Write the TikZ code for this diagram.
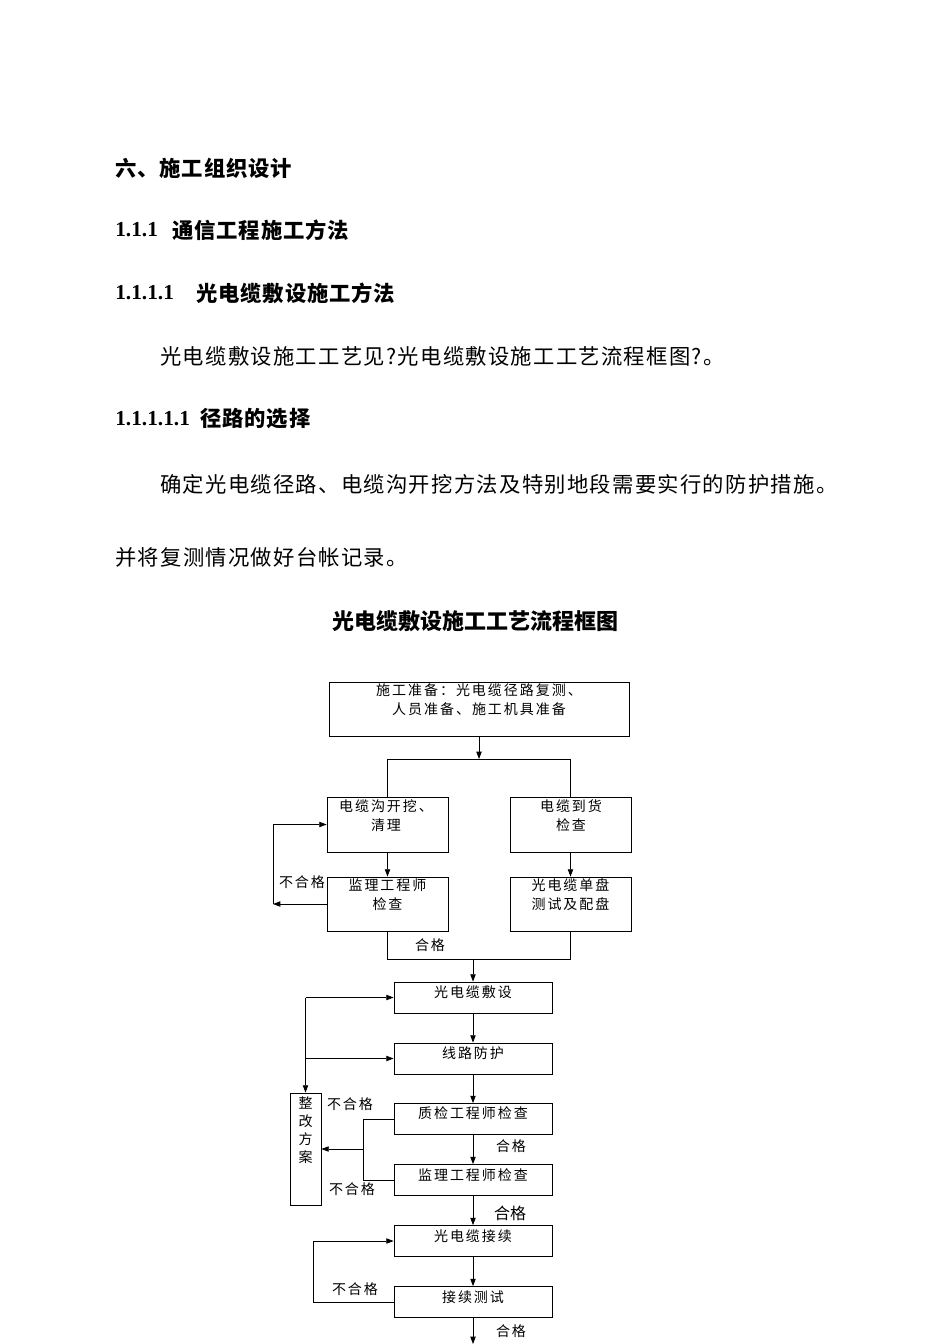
\documentclass[tikz,border=0pt]{standalone}
\usepackage{fontspec}
\setmainfont{Liberation Serif}
\newfontfamily\cjk{Noto Sans CJK SC}
\newfontfamily\cjkhead[LetterSpace=4]{Noto Sans CJK SC}
\newfontfamily\cjkbody[LetterSpace=6]{Noto Sans CJK SC}
\newfontfamily\cjkbox[LetterSpace=14]{Noto Sans CJK SC}
\usetikzlibrary{arrows.meta}
\tikzset{
  box/.style={draw, line width=0.6pt, inner sep=0pt},
  btxt/.style={inner sep=0pt, align=center, font=\cjkbox\fontsize{10.5}{14.25}\selectfont},
  lab/.style={inner sep=0pt, font=\cjkbox\fontsize{10.5}{13}\selectfont},
  conn/.style={line width=0.6pt},
  arr/.style={line width=0.6pt, -{Triangle[length=5.5pt,width=4pt]}},
  head/.style={inner sep=0pt, anchor=west, font=\cjkhead\bfseries\fontsize{16}{18}\selectfont},
  num/.style={inner sep=0pt, anchor=west, font=\bfseries\fontsize{16}{18}\selectfont},
  body/.style={inner sep=0pt, anchor=west, font=\cjkbody\fontsize{16}{18}\selectfont},
}
\begin{document}
\begin{tikzpicture}[x=0.75pt,y=-0.75pt]
\useasboundingbox (0,0) rectangle (950,1344);
\fill[white] (0,0) rectangle (950,1344);

% ---- text part ----
\node[head] (h1) at (115,168) {六、施工组织设计};
\node[num] (n2) at (115,230) {1.1.1};
\node[head] (h2) at (172,230) {通信工程施工方法};
\node[num] (n3) at (115,293) {1.1.1.1};
\node[head] (h3) at (196,293) {光电缆敷设施工方法};
\node[body] (p1) at (160,356) {光电缆敷设施工工艺见?光电缆敷设施工工艺流程框图?。};
\node[num] (n4) at (115,419) {1.1.1.1.1};
\node[head] (h4) at (200,419) {径路的选择};
\node[body] (p2) at (160,484) {确定光电缆径路、电缆沟开挖方法及特别地段需要实行的防护措施。};
\node[body] (p3) at (115,557) {并将复测情况做好台帐记录。};
\node[inner sep=0pt, font=\cjk\bfseries\fontsize{16.5}{18}\selectfont] (title) at (475,621) {光电缆敷设施工工艺流程框图};

% ---- boxes ----
\node[box, minimum width=225pt, minimum height=40.5pt] (A) at (479,709) {};
\node[btxt] (At) at (479,700) {施工准备：光电缆径路复测、\\人员准备、施工机具准备};

\node[box, minimum width=90.75pt, minimum height=41.25pt] (B) at (387.5,824.5) {};
\node[btxt] (Bt) at (386,815.5) {电缆沟开挖、\\清理};
\node[box, minimum width=90.75pt, minimum height=41.25pt] (C) at (570.5,824.5) {};
\node[btxt] (Ct) at (571,815.5) {电缆到货\\检查};
\node[box, minimum width=90.75pt, minimum height=40.5pt] (D) at (387.5,904) {};
\node[btxt] (Dt) at (387.5,895) {监理工程师\\检查};
\node[box, minimum width=90.75pt, minimum height=40.5pt] (E) at (570.5,904) {};
\node[btxt] (Et) at (570.5,895) {光电缆单盘\\测试及配盘};

\node[box, minimum width=118.5pt, minimum height=23.25pt] (F) at (473,997.5) {};
\node[btxt] (Ft) at (473,992) {光电缆敷设};
\node[box, minimum width=118.5pt, minimum height=23.25pt] (G) at (473,1058.5) {};
\node[btxt] (Gt) at (473,1053) {线路防护};
\node[box, minimum width=118.5pt, minimum height=23.25pt] (H) at (473,1119) {};
\node[btxt] (Ht) at (473,1113) {质检工程师检查};
\node[box, minimum width=118.5pt, minimum height=23.25pt] (I) at (473,1180) {};
\node[btxt] (It) at (473,1175) {监理工程师检查};
\node[box, minimum width=118.5pt, minimum height=23.25pt] (J) at (473,1241) {};
\node[btxt] (Jt) at (473,1236) {光电缆接续};
\node[box, minimum width=118.5pt, minimum height=23.25pt] (K) at (473,1302) {};
\node[btxt] (Kt) at (473,1297) {接续测试};

\node[box, minimum width=23.25pt, minimum height=84pt] (Z) at (305.5,1149) {};
\node[btxt, font=\cjk\fontsize{10.5}{13.5}\selectfont] (Zt) at (305.5,1130) {整\\改\\方\\案};

% ---- connectors ----
\coordinate (jA) at (479,759);
\coordinate (jB) at (387.5,759);
\coordinate (jC) at (570.5,759);
\draw[arr] (A.south) -- (jA);
\draw[conn] (B.north) -- (jB) -- (jC) -- (C.north);
\draw[arr] (B.south) -- (D.north);
\draw[arr] (C.south) -- (E.north);

\coordinate (l1) at (273,904);
\coordinate (l2) at (273,824.5);
\draw[arr] (D.west) -- (l1);
\draw[arr] (l1) -- (l2) -- (B.west);

\coordinate (m1) at (387.5,959);
\coordinate (m2) at (570.5,959);
\coordinate (m3) at (473,959);
\draw[conn] (D.south) -- (m1) -- (m2) -- (E.south);
\draw[arr] (m3) -- (F.north);

\draw[arr] (F.south) -- (G.north);
\draw[arr] (G.south) -- (H.north);
\draw[arr] (H.south) -- (I.north);
\draw[arr] (I.south) -- (J.north);
\draw[arr] (J.south) -- (K.north);
\coordinate (kend) at (473,1344);
\draw[arr] (K.south) -- (kend);

\coordinate (z1) at (305.5,997.5);
\coordinate (z2) at (305.5,1058.5);
\draw[arr] (z1) -- (F.west);
\draw[arr] (z2) -- (G.west);
\draw[arr] (z1) -- (Z.north);

\coordinate (q1) at (363,1119);
\coordinate (q2) at (363,1180);
\coordinate (q3) at (363,1149);
\draw[conn] (H.west) -- (q1) -- (q2) -- (I.west);
\draw[arr] (q3) -- (Z.east);

\coordinate (r1) at (313,1302);
\coordinate (r2) at (313,1241);
\draw[arr] (K.west) -- (r1) -- (r2) -- (J.west);

% ---- labels ----
\node[lab] (L1) at (302,882) {不合格};
\node[lab] (L2) at (430,945) {合格};
\node[lab] (L3) at (350,1104) {不合格};
\node[lab] (L4) at (511,1146) {合格};
\node[lab] (L5) at (352,1189) {不合格};
\node[inner sep=0pt, font=\cjk\fontsize{12}{13}\selectfont] (L6) at (510,1213) {合格};
\node[lab] (L7) at (355,1289) {不合格};
\node[lab] (L8) at (511,1331) {合格};
\end{tikzpicture}
\end{document}
